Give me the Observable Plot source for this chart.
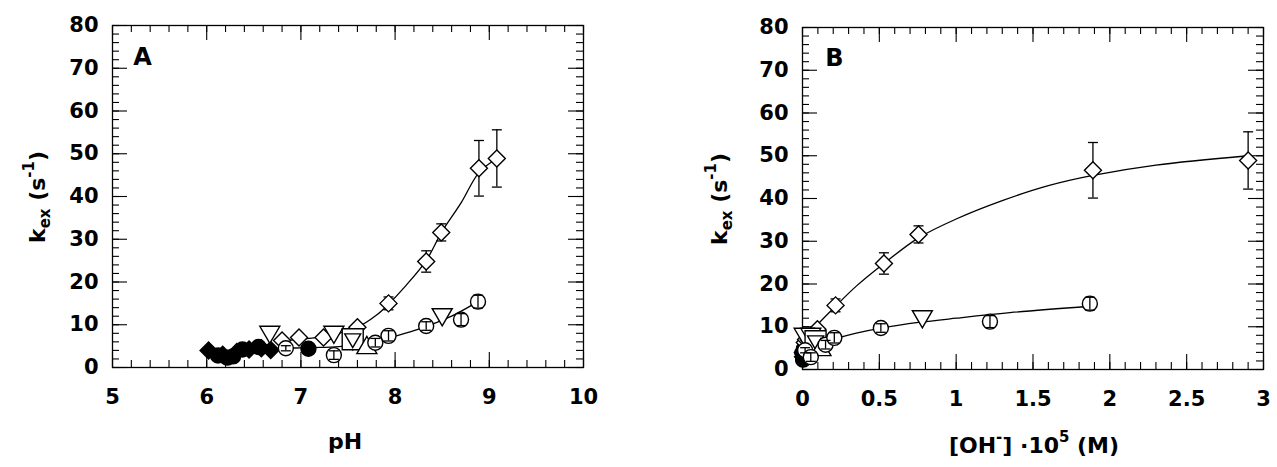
<!DOCTYPE html>
<html><head><meta charset="utf-8">
<script src="https://cdn.jsdelivr.net/npm/d3@7"></script>
<script src="https://cdn.jsdelivr.net/npm/@observablehq/plot@0.6"></script>
<style>
body{margin:0;background:#fff;}
#wrap{position:relative;width:1277px;height:467px;overflow:hidden;background:#fff;font-family:"DejaVu Sans",sans-serif;}
.panel{position:absolute;top:0}
.lab{position:absolute;font-size:22px;font-weight:bold;white-space:nowrap;color:#000;line-height:1;}
.lab sub,.lab sup{font-size:0.68em;line-height:0;}
.lab sub{vertical-align:-0.35em}
.lab sup{vertical-align:0.75em}
.rot{transform:translate(-50%,-50%) rotate(-90deg);}
.ctr{transform:translate(-50%,-50%);}
</style></head>
<body><div id="wrap"></div>
<script>
// ---------- tick values ----------
const yMajor = [0, 10, 20, 30, 40, 50, 60, 70, 80];
const xMajorA = [5, 6, 7, 8, 9, 10];
const xMajorB = [0, 0.5, 1, 1.5, 2, 2.5, 3];

// ---------- shared k values ----------
const diamondK   = [6.3, 7.0, 7.0, 9.4, 15.0, 24.8, 31.6, 46.6, 48.9];
const diamondErr = [0.5, 0.5, 0.5, 0.8, 1.5, 2.5, 2.0, 6.5, 6.7];
const circleK    = [4.5, 2.9, 5.8, 7.4, 9.7, 11.2, 15.4];
const circleErr  = [0.6, 1.0, 1.0, 1.2, 1.0, 1.4, 1.5];
const downTriK   = [8.2, 8.2, 6.7, 12.3];
const squareK    = [6.6];
const upTriK     = [4.7];
const fDiamondK  = [4.0, 3.0, 3.6, 4.2, 4.5, 4.1];
const fCircleK   = [2.8, 2.3, 2.6, 4.2, 4.8, 4.4];

// ---------- panel A x (pH) ----------
const diamondPH  = [6.8, 6.98, 7.24, 7.6, 7.93, 8.33, 8.49, 8.89, 9.08];
const circlePH   = [6.84, 7.35, 7.79, 7.93, 8.33, 8.7, 8.88];
const downTriPH  = [6.67, 7.35, 7.55, 8.5];
const squarePH   = [7.55];
const upTriPH    = [7.7];
const fDiamondPH = [6.02, 6.17, 6.32, 6.45, 6.58, 6.68];
const fCirclePH  = [6.12, 6.22, 6.28, 6.38, 6.55, 7.08];

// ---------- panel B x ([OH-]·10^5) ----------
const diamondOH  = [0.015, 0.023, 0.041, 0.097, 0.215, 0.53, 0.755, 1.89, 2.9];
const circleOH   = [0.017, 0.054, 0.15, 0.207, 0.51, 1.22, 1.87];
const downTriOH  = [0.011, 0.054, 0.085, 0.78];
const squareOH   = [0.085];
const upTriOH    = [0.12];
const fDiamondOH = [0.0025, 0.0035, 0.005, 0.0066, 0.0089, 0.011];
const fCircleOH  = [0.0032, 0.004, 0.0046, 0.0058, 0.0087, 0.03];

// ---------- fitted curves ----------
const fitDiamondPH = [6.8, 7.0, 7.2, 7.4, 7.6, 7.8, 7.93, 8.1, 8.33, 8.49, 8.7, 8.89, 9.08];
const fitDiamondKA = [6.3, 6.6, 7.1, 8.0, 9.4, 12.2, 14.8, 18.8, 25.0, 31.5, 38.5, 45.6, 48.9];
const fitCirclePH  = [6.84, 7.0, 7.2, 7.4, 7.6, 7.8, 8.0, 8.2, 8.4, 8.6, 8.88];
const fitCircleKA  = [4.5, 4.6, 4.7, 4.9, 5.3, 6.1, 7.3, 8.6, 10.2, 12.0, 15.4];
const fitDiamondOH = [0, 0.05, 0.1, 0.215, 0.35, 0.53, 0.755, 1.0, 1.3, 1.6, 1.89, 2.3, 2.9];
const fitDiamondKB = [6.3, 8.6, 10.6, 14.8, 19.5, 24.8, 30.8, 35.2, 39.5, 43.0, 45.4, 47.8, 50.0];
const fitCircleOH  = [0, 0.05, 0.1, 0.215, 0.35, 0.53, 0.755, 1.0, 1.35, 1.87];
const fitCircleKB  = [3.6, 5.0, 5.8, 7.2, 8.5, 9.8, 11.0, 12.0, 13.3, 14.8];

// ---------- helpers ----------
const zip = (xs, ks, es) => xs.map((x, i) => ({x, k: ks[i], e: es ? es[i] : 0}));
const sym = f => ({draw(ctx, size) { f(ctx, Math.sqrt(size / Math.PI)); }});
const diamondSym = sym((c, r) => { c.moveTo(0, -r); c.lineTo(r, 0); c.lineTo(0, r); c.lineTo(-r, 0); c.closePath(); });
const squareSym  = sym((c, r) => { c.moveTo(-r, -r); c.lineTo(r, -r); c.lineTo(r, r); c.lineTo(-r, r); c.closePath(); });
const downSym    = sym((c, r) => { c.moveTo(-r, -0.62 * r); c.lineTo(r, -0.62 * r); c.lineTo(0, 1.1 * r); c.closePath(); });
const upSym      = sym((c, r) => { c.moveTo(-r, 0.62 * r); c.lineTo(r, 0.62 * r); c.lineTo(0, -1.1 * r); c.closePath(); });
const circleSym  = sym((c, r) => { c.moveTo(r, 0); c.arc(0, 0, r, 0, 2 * Math.PI); });
const capSym     = sym((c, r) => { c.moveTo(-r, 0); c.lineTo(r, 0); });

function minorTicks(lo, hi, step) {
  const out = [];
  const n = Math.round((hi - lo) / step);
  for (let i = 0; i <= n; i++) out.push(+(lo + i * step).toFixed(6));
  return out;
}

function panel(o) {
  const plotW = o.width - o.ml - o.mr;
  const plotH = 467 - o.mt - o.mb;
  const caps = d => d.flatMap(p => [{x: p.x, y: p.k - p.e}, {x: p.x, y: p.k + p.e}]);
  const dot = (data, symbol, r, fill) => Plot.dot(data, {x: "x", y: "k", symbol, r, fill, stroke: "black", strokeWidth: 1.4});
  const bars = data => [
    Plot.ruleX(data, {x: "x", y1: d => d.k - d.e, y2: d => d.k + d.e, stroke: "black", strokeWidth: 1.3}),
    Plot.dot(caps(data), {x: "x", y: "y", symbol: capSym, r: 5, stroke: "black", strokeWidth: 1.3})
  ];
  const xMinor = minorTicks(o.xDomain[0], o.xDomain[1], o.xStep);
  const yMinor = minorTicks(0, 80, 2);
  const tickOpts = {stroke: "black", strokeWidth: 1.1};
  return Plot.plot({
    width: o.width, height: 467,
    marginLeft: o.ml, marginRight: o.mr, marginTop: o.mt, marginBottom: o.mb,
    x: {domain: o.xDomain},
    y: {domain: [0, 80]},
    style: {fontFamily: "DejaVu Sans", background: "white", overflow: "visible"},
    marks: [
      // minor / major ticks, inward on all four sides
      Plot.tickX(xMinor, {...tickOpts, insetTop: plotH - 7}),
      Plot.tickX(xMinor, {...tickOpts, insetBottom: plotH - 7}),
      Plot.tickX(o.xMajor, {...tickOpts, insetTop: plotH - 15}),
      Plot.tickX(o.xMajor, {...tickOpts, insetBottom: plotH - 15}),
      Plot.tickY(yMinor, {...tickOpts, insetRight: plotW - 7}),
      Plot.tickY(yMinor, {...tickOpts, insetLeft: plotW - 7}),
      Plot.tickY(yMajor, {...tickOpts, insetRight: plotW - 15}),
      Plot.tickY(yMajor, {...tickOpts, insetLeft: plotW - 15}),
      Plot.frame({stroke: "black", strokeWidth: 1.3}),
      Plot.axisX(o.xMajor, {tickSize: 0, tickPadding: 22, fontSize: 21, fontWeight: "bold", label: null, tickFormat: d => String(d)}),
      Plot.axisY(yMajor, {tickSize: 0, tickPadding: 14, fontSize: 21, fontWeight: "bold", label: null, tickFormat: d => String(d)}),
      // fitted curves
      Plot.line(o.fitD, {x: "x", y: "k", stroke: "black", strokeWidth: 1.3, curve: "catmull-rom"}),
      Plot.line(o.fitC, {x: "x", y: "k", stroke: "black", strokeWidth: 1.3, curve: "catmull-rom"}),
      // diamond error bars (behind markers)
      ...bars(o.diamonds),
      dot(o.fDiamonds, diamondSym, 8.5, "black"),
      dot(o.fCircles, circleSym, 7.5, "black"),
      dot(o.diamonds, diamondSym, 8.5, "white"),
      dot(o.downTri, downSym, 10, "white"),
      dot(o.square, squareSym, 10.5, "white"),
      dot(o.downTri.filter((d, i) => i === 2), downSym, 8, "white"),
      dot(o.upTri, upSym, 10, "white"),
      dot(o.circles, circleSym, 7.5, "white"),
      ...bars(o.circles),
      Plot.text([o.letter], {frameAnchor: "top-left", dx: o.ldx, dy: o.ldy, fontSize: 24, fontWeight: "bold", textAnchor: "middle", lineAnchor: "middle"})
    ]
  });
}

const wrap = document.getElementById("wrap");

const A = panel({
  width: 640, ml: 112, mr: 57, mt: 25, mb: 100,
  xDomain: [5, 10], xMajor: xMajorA, xStep: 0.2,
  diamonds: zip(diamondPH, diamondK, diamondErr),
  circles: zip(circlePH, circleK, circleErr),
  downTri: zip(downTriPH, downTriK),
  square: zip(squarePH, squareK),
  upTri: zip(upTriPH, upTriK),
  fDiamonds: zip(fDiamondPH, fDiamondK),
  fCircles: zip(fCirclePH, fCircleK),
  fitD: zip(fitDiamondPH, fitDiamondKA),
  fitC: zip(fitCirclePH, fitCircleKA),
  letter: "A", ldx: 30, ldy: 32
});
A.classList.add("panel"); A.style.left = "0px";
wrap.appendChild(A);

const B = panel({
  width: 637, ml: 162, mr: 14, mt: 27, mb: 98,
  xDomain: [0, 3], xMajor: xMajorB, xStep: 0.1,
  diamonds: zip(diamondOH, diamondK, diamondErr),
  circles: zip(circleOH, circleK, circleErr),
  downTri: zip(downTriOH, downTriK),
  square: zip(squareOH, squareK),
  upTri: zip(upTriOH, upTriK),
  fDiamonds: zip(fDiamondOH, fDiamondK),
  fCircles: zip(fCircleOH, fCircleK),
  fitD: zip(fitDiamondOH, fitDiamondKB),
  fitC: zip(fitCircleOH, fitCircleKB),
  letter: "B", ldx: 32, ldy: 31
});
B.classList.add("panel"); B.style.left = "640px";
wrap.appendChild(B);

// axis titles (HTML text with sub/superscripts)
function label(html, x, y, cls) {
  const d = document.createElement("div");
  d.className = "lab " + cls;
  d.style.left = x + "px"; d.style.top = y + "px";
  d.innerHTML = html;
  wrap.appendChild(d);
}
const yTitle = "k<sub>ex</sub> (s<sup>-1</sup>)";
label(yTitle, 38, 197, "rot");
label(yTitle, 720, 199, "rot");
label("pH", 345, 442, "ctr");
label("[OH<sup>-</sup>] ·10<sup>5</sup> (M)", 1034, 446, "ctr");
</script>
</body></html>
